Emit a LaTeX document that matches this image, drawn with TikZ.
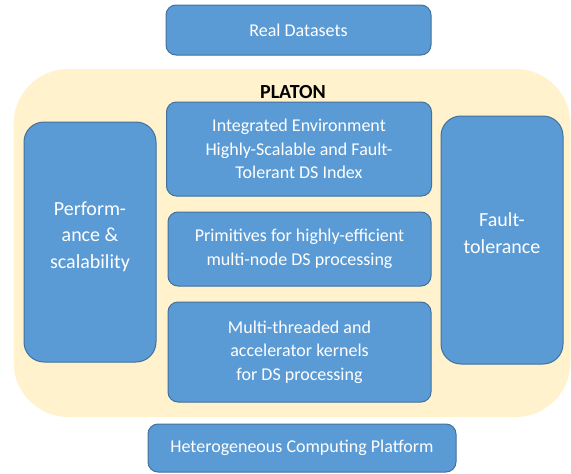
\documentclass[tikz,border=0pt]{standalone}
\usepackage{fontspec}
\setmainfont{Carlito}
\definecolor{boxblue}{HTML}{5B9BD5}
\definecolor{boxedge}{HTML}{41719C}
\definecolor{creamfill}{HTML}{FFF2CC}
\begin{document}
\begin{tikzpicture}[x=1pt,y=-1pt,
  blk/.style={draw=boxedge, fill=boxblue, line width=1pt, rounded corners=10pt,
    text=white, align=center, inner sep=0pt, font=\fontsize{18}{23.5}\selectfont},
  sideblk/.style={blk, rounded corners=20pt, font=\fontsize{20}{26.5}\selectfont},
  area/.style={fill=creamfill, rounded corners=55pt, inner sep=0pt}]
\useasboundingbox (0,0) rectangle (571,474);
\node[area, minimum width=557pt, minimum height=348pt] (platon) at (292,243) {};
\node[font=\fontsize{20}{24}\selectfont\bfseries] (title) at (293,92) {PLATON};
\node[blk, minimum width=265pt, minimum height=50pt] (real) at (298.5,30) {Real Datasets};
\node[blk, minimum width=265pt, minimum height=94pt] (integ) at (299,149) {Integrated Environment\\Highly-Scalable and Fault-\\Tolerant DS Index};
\node[blk, minimum width=263pt, minimum height=74pt] (prim) at (299.5,249) {Primitives for highly-efficient\\multi-node DS processing};
\node[blk, minimum width=263pt, minimum height=100pt] (multi) at (299.5,352) {Multi-threaded and\\accelerator kernels\\for DS processing};
\node[sideblk, minimum width=132pt, minimum height=240pt, text depth=14pt] (perf) at (90,242) {Perform-\\ance \&\\scalability};
\node[sideblk, minimum width=122pt, minimum height=248pt, text depth=14pt] (fault) at (502,240) {Fault-\\tolerance};
\node[blk, minimum width=308pt, minimum height=48pt] (hetero) at (302,448) {Heterogeneous Computing Platform};
\end{tikzpicture}
\end{document}
